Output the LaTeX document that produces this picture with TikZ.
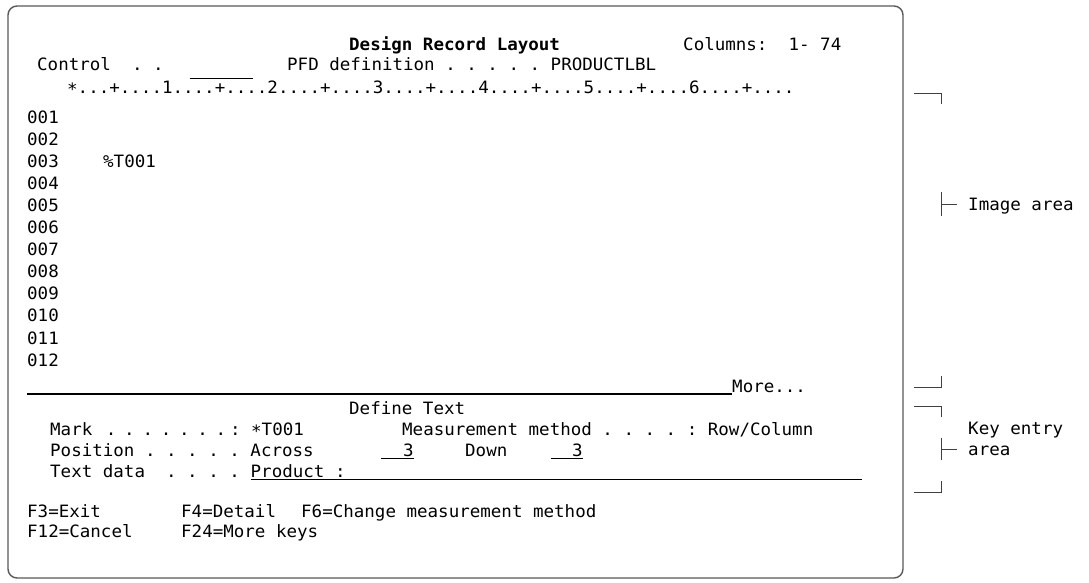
\documentclass[tikz,border=0pt]{standalone}
\usepackage{fontspec}
\newfontfamily\scrmono[FakeStretch=1.03]{DejaVu Sans Mono}
\newcommand{\scrfont}{\scrmono\fontsize{17}{20}\selectfont}
\newcommand{\dotlead}[1]{\foreach \k in {1,...,#1}{\makebox[18.3pt][c]{.}}}
\newcommand{\midstar}{\raisebox{-2.5pt}{*}}
\tikzset{
  scr/.style={anchor=base west, inner sep=0pt, font=\scrfont},
  scrframe/.style={draw=black!65, line width=1.4pt, rounded corners=9pt},
  uline/.style={line width=1.1pt},
  brk/.style={line width=0.9pt, draw=black!75}
}

\begin{document}
\begin{tikzpicture}[x=1pt, y=-1pt]
\path[fill=white] (0,0) rectangle (1089,582);
\useasboundingbox (0,0) rectangle (1089,582);
\draw[scrframe] (8,6) rectangle (903,578);
% header lines
\node[scr] (title) at (349,50) {\bfseries Design Record Layout};
\node[scr] (cols) at (683,50) {Columns:~~1-~74};
\node[scr] (ctl) at (37,70) {Control~~.~.};
\draw[uline] (190,78.5) -- (253,78.5);
\node[scr] (pfd) at (287,70) {PFD~definition~.~.~.~.~.~PRODUCTLBL};
\node[scr] (ruler) at (67,93) {\midstar...+....1....+....2....+....3....+....4....+....5....+....6....+....};
% image area
\foreach \n [count=\k] in {001,002,003,004,005,006,007,008,009,010,011,012}
  \node[scr] (r\n) at (27,{123+22.1*(\k-1)}) {\n};
\node[scr] (txtmark) at ([xshift=76pt]r003.base west) {\%T001};
\node[scr] (more) at (732,392) {More...};
\coordinate (sepL) at (27,394);
\draw[uline] (sepL) -- (sepL -| more.west);
% key entry area
\node[scr] (deftxt) at (349,414) {Define~Text};
\node[scr] (markl) at (50,435) {Mark};
\node[scr] (markdots) at (101.85,435) {\dotlead{7}:};
\node[scr] (markval) at (251,435) {\midstar T001};
\node[scr] (meas) at (402,435) {Measurement~method~.~.~.~.~:~Row/Column};
\node[scr] (posl) at (50,456) {Position~.~.~.~.~.~Across};
\node[scr] (acrossval) at (403,456) {3};
\draw[uline] ([xshift=-22pt,yshift=-2.5pt]acrossval.base west) -- ([yshift=-2.5pt]acrossval.base east);
\node[scr] (down) at (465,456) {Down};
\node[scr] (downval) at (572,456) {3};
\draw[uline] ([xshift=-21pt,yshift=-2.5pt]downval.base west) -- ([yshift=-2.5pt]downval.base east);
\node[scr] (tdl) at (50,477) {Text~data~~.~.~.~.};
\node[scr] (prod) at (250.5,477) {Product~:};
\coordinate (prodend) at (862,479.5);
\draw[uline] ([yshift=-2.5pt]prod.base west) -- (prodend);
% function keys
\node[scr] (f3) at (27,517) {F3=Exit};
\node[scr] (f4) at (181,517) {F4=Detail};
\node[scr] (f6) at (301,517) {F6=Change~measurement~method};
\node[scr] (f12) at (27,537) {F12=Cancel};
\node[scr] (f24) at (181,537) {F24=More~keys};
% area brackets
\coordinate (imgtop) at (941,93);
\coordinate (imgmid) at (941,204);
\coordinate (imgbot) at (941,387);
\coordinate (keytop) at (941,406);
\coordinate (keymid) at (941,449);
\coordinate (keybot) at (941,492);
\draw[brk] ([xshift=-27pt]imgtop) -- (imgtop) -- ++(0,11);
\draw[brk] (imgmid) ++(0,-12) -- ++(0,24);
\draw[brk] (imgmid) -- ++(16,0);
\draw[brk] ([xshift=-27pt]imgbot) -- (imgbot) -- ++(0,-11);
\draw[brk] ([xshift=-27pt]keytop) -- (keytop) -- ++(0,11);
\draw[brk] (keymid) ++(0,-11) -- ++(0,22);
\draw[brk] (keymid) -- ++(16,0);
\draw[brk] ([xshift=-27pt]keybot) -- (keybot) -- ++(0,-11);
\node[scr] (imglbl) at (968,210) {Image~area};
\node[scr] (keylbl) at (968,434) {Key~entry};
\node[scr] (keylbl2) at (968,455) {area};
\end{tikzpicture}
\end{document}
